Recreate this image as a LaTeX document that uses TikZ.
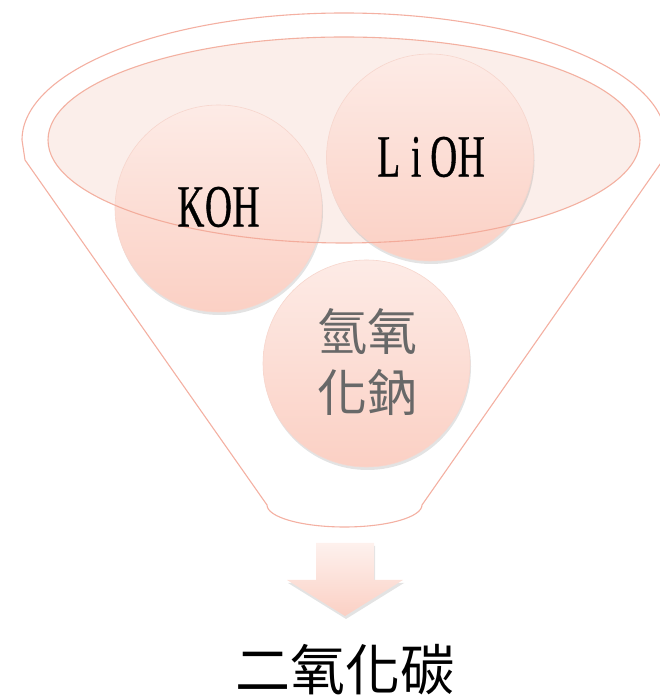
\documentclass[tikz,border=0pt]{standalone}
\usepackage{fontspec}
\newfontfamily\cjk{Noto Sans CJK TC}
\newfontfamily\narrowserif[FakeStretch=0.62,FakeBold=0.6]{Liberation Serif}
\newcommand{\mcell}[1]{\makebox[27.5pt]{#1}}
\usetikzlibrary{shadows}
\definecolor{rim}{HTML}{F4B0A2}
\definecolor{rimdark}{HTML}{F2A593}
\definecolor{ellfill}{HTML}{FBEEEA}
\definecolor{ctop}{HTML}{FDEBE6}
\definecolor{cbot}{HTML}{FBD0C4}
\definecolor{cedge}{HTML}{F7D6CD}
\definecolor{natext}{HTML}{686868}
\tikzset{
  ball/.style={circle, minimum size=207pt, inner sep=0pt, top color=ctop, bottom color=cbot,
    draw=cedge, line width=0.6pt,
    drop shadow={opacity=0.22, shadow xshift=1pt, shadow yshift=-3pt}},
  latinlabel/.style={font=\narrowserif\fontsize{60}{60}\selectfont, text=black, inner sep=0pt},
  cjklabel/.style={font=\cjk\fontsize{50}{61}\selectfont, text=natext, align=center},
  funnelline/.style={draw=rim, line width=1.1pt},
}
\begin{document}
\begin{tikzpicture}[x=1pt,y=1pt]
\useasboundingbox (0,0) rectangle (659,698);
% outer funnel
\coordinate (ftl) at (25,538);
\coordinate (ftr) at (663,538);
\coordinate (fbr) at (422,193);
\coordinate (fbl) at (267,193);
\draw[funnelline, fill=white] (ftl) -- (22,558) arc[start angle=180, end angle=0, x radius=322, y radius=127]
  -- (ftr) -- (fbr) arc[start angle=0, end angle=-180, x radius=77.5, y radius=22] -- cycle;
% inner ellipse fill
\fill[ellfill] (344,558) ellipse[x radius=296, y radius=103];
% balls
\node[ball] (koh) at (218.5,489.5) {};
\node[ball] (lioh) at (430,540.5) {};
\node[ball] (naoh) at (366.5,334.5) {};
% inner ellipse outline over the balls
\draw[rimdark, line width=1.1pt, opacity=0.85] (344,558) ellipse[x radius=296, y radius=103];
% labels
\node[latinlabel] (kohtext) at (218.5,491) {\mcell{K}\mcell{O}\mcell{H}};
\node[latinlabel] (liohtext) at (430,541) {\mcell{L}\mcell{i}\mcell{O}\mcell{H}};
\node[cjklabel] (naohtext) at (367,336) {氫氧\\化鈉};
% arrow
\coordinate (a1) at (316,155);
\coordinate (a2) at (374,155);
\coordinate (a3) at (374,118);
\coordinate (a4) at (403,118);
\coordinate (atip) at (345,82);
\coordinate (a5) at (287,118);
\coordinate (a6) at (316,118);
\path[top color=ctop!70!white, bottom color=cbot, drop shadow={opacity=0.22, shadow xshift=1pt, shadow yshift=-3pt}]
  (a1) -- (a2) -- (a3) -- (a4) -- (atip) -- (a5) -- (a6) -- cycle;
\node[font=\cjk\fontsize{55}{55}\selectfont, text=black] (co2) at (345,28) {二氧化碳};
\end{tikzpicture}
\end{document}
